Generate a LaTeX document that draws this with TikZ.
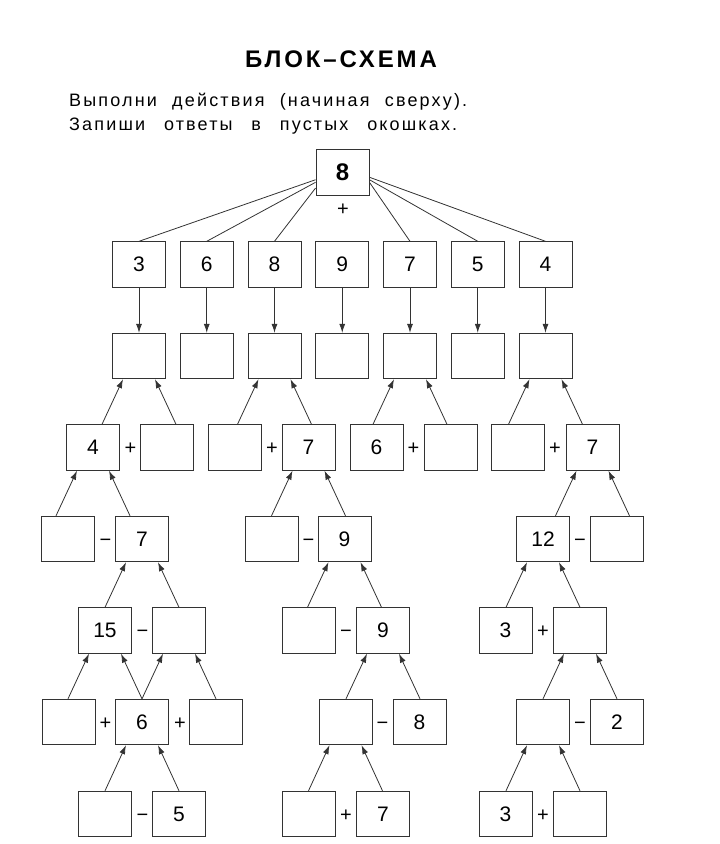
\documentclass[tikz,border=0pt]{standalone}
\usepackage{fontspec}
\setmainfont{Liberation Sans}
\newfontfamily\headfont[LetterSpace=12]{Liberation Sans}
\usetikzlibrary{calc,arrows.meta}

\tikzset{
  cell/.style={draw=black!80,line width=0.9pt,minimum width=53pt,minimum height=45.5pt,
    inner sep=0pt,font=\fontsize{21}{21}\selectfont},
  op/.style={inner sep=0pt,text height=14pt,text depth=0pt,font=\fontsize{20}{20}\selectfont},
  link/.style={draw=black!80,line width=0.8pt},
  arr/.style={link,-{Latex[length=9pt,width=6pt]}}
}

\begin{document}
\begin{tikzpicture}[x=1pt,y=1pt]
  \useasboundingbox (0,0) rectangle (720,-844);
  % heading
  \node[anchor=base,inner sep=0pt,font=\headfont\fontsize{24}{24}\selectfont\bfseries] (title) at (341,-67) {БЛОК–СХЕМА};
  \node[anchor=base west,inner sep=0pt,font=\headfont\fontsize{18}{18}\selectfont] (task1) at (69,-106)
    {\makebox[398pt][s]{Выполни действия (начиная сверху).}};
  \node[anchor=base west,inner sep=0pt,font=\headfont\fontsize{18}{18}\selectfont] (task2) at (69,-130)
    {\makebox[388pt][s]{Запиши ответы в пустых окошках.}};

  % top box
  \node[cell,font=\fontsize{24}{24}\selectfont\bfseries] (top) at (342.5,-172.5) {8};
  \node[op] (plus0) at (343,-208) {+};

  % first two rows
  \foreach \v [count=\i] in {3,6,8,9,7,5,4}{
    \node[cell] (a\i) at ({139+67.75*(\i-1)},-264.5) {\v};
    \node[cell] (b\i) at ({139+67.75*(\i-1)},-356) {};
    \draw[arr] (a\i) -- (b\i);
  }
  \foreach \i/\ang in {1/195,2/200,3/210,5/340,6/345,7/350}
    \draw[link] (top.\ang) -- (a\i.north);

  % row 3
  \node[cell] (c1) at (93,-447.5) {4};
  \node[cell] (c2) at (167,-447.5) {};
  \node[cell] (c3) at (234.5,-447.5) {};
  \node[cell] (c4) at (308.5,-447.5) {7};
  \node[cell] (c5) at (376.5,-447.5) {6};
  \node[cell] (c6) at (450.5,-447.5) {};
  \node[cell] (c7) at (517.5,-447.5) {};
  \node[cell] (c8) at (592.5,-447.5) {7};
  \node[op] (oc1) at (130.5,-447.5) {+};
  \node[op] (oc2) at (272,-447.5) {+};
  \node[op] (oc3) at (413.5,-447.5) {+};
  \node[op] (oc4) at (555,-447.5) {+};

  % row 4
  \node[cell] (d1) at (68,-539) {};
  \node[cell] (d2) at (142,-539) {7};
  \node[cell] (d3) at (271.5,-539) {};
  \node[cell] (d4) at (344.5,-539) {9};
  \node[cell] (d5) at (543,-539) {12};
  \node[cell] (d6) at (616.5,-539) {};
  \node[op] (od1) at (105.5,-539) {−};
  \node[op] (od2) at (308.5,-539) {−};
  \node[op] (od3) at (580,-539) {−};

  % row 5
  \node[cell] (e1) at (105,-630.5) {15};
  \node[cell] (e2) at (179,-630.5) {};
  \node[cell] (e3) at (308.5,-630.5) {};
  \node[cell] (e4) at (383,-630.5) {9};
  \node[cell] (e5) at (505.5,-630.5) {3};
  \node[cell] (e6) at (580,-630.5) {};
  \node[op] (oe1) at (142.5,-630.5) {−};
  \node[op] (oe2) at (346,-630.5) {−};
  \node[op] (oe3) at (543,-630.5) {+};

  % row 6
  \node[cell] (f1) at (68.5,-722) {};
  \node[cell] (f2) at (142,-722) {6};
  \node[cell] (f3) at (215.5,-722) {};
  \node[cell] (f4) at (345.5,-722) {};
  \node[cell] (f5) at (419.5,-722) {8};
  \node[cell] (f6) at (543,-722) {};
  \node[cell] (f7) at (617,-722) {2};
  \node[op] (of1) at (105.5,-722) {+};
  \node[op] (of2) at (180,-722) {+};
  \node[op] (of3) at (382.5,-722) {−};
  \node[op] (of4) at (580,-722) {−};

  % row 7
  \node[cell] (g1) at (105,-814) {};
  \node[cell] (g2) at (179,-814) {5};
  \node[cell] (g3) at (308.5,-814) {};
  \node[cell] (g4) at (383,-814) {7};
  \node[cell] (g5) at (505.5,-814) {3};
  \node[cell] (g6) at (580,-814) {};
  \node[op] (og1) at (142.5,-814) {−};
  \node[op] (og2) at (346,-814) {+};
  \node[op] (og3) at (543,-814) {+};

  % arrows up to the result boxes
  \foreach \c/\p/\s in {c1/b1/-1,c2/b1/1,c3/b3/-1,c4/b3/1,c5/b5/-1,c6/b5/1,c7/b7/-1,c8/b7/1,
      d1/c1/-1,d2/c1/1,d3/c4/-1,d4/c4/1,d5/c8/-1,d6/c8/1,
      e1/d2/-1,e2/d2/1,e3/d4/-1,e4/d4/1,e5/d5/-1,e6/d5/1,
      f1/e1/-1,f2/e1/1,f2/e2/-1,f3/e2/1,f4/e4/-1,f5/e4/1,f6/e6/-1,f7/e6/1,
      g1/f2/-1,g2/f2/1,g3/f4/-1,g4/f4/1,g5/f6/-1,g6/f6/1}{
    \path ($(\p.south)+(\s*37,0)$) coordinate (aux);
    \draw[arr] (aux |- \c.north) -- ($(\p.south)+(\s*16,0)$);
  }
\end{tikzpicture}
\end{document}
